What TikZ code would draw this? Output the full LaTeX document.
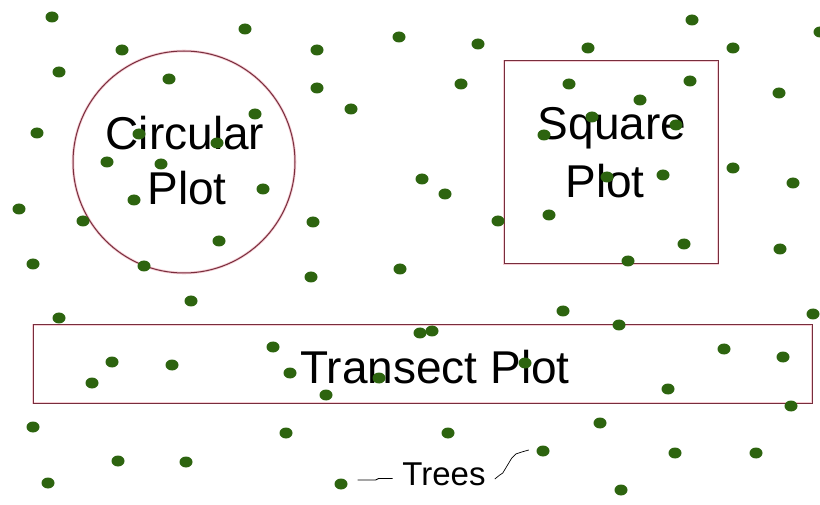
\documentclass[tikz,border=0pt]{standalone}
\usepackage{fontspec}
\setmainfont{Liberation Sans}
\usetikzlibrary{shapes.geometric}
\definecolor{plotline}{RGB}{120,45,60}
\definecolor{plothalo}{RGB}{245,205,212}
\definecolor{treegreen}{RGB}{45,100,15}
\tikzset{
  frame/.style={draw=plotline, line width=1pt, fill=none, inner sep=0pt,
    preaction={draw=plothalo, line width=2.6pt}},
  big/.style={font=\fontsize{46}{52}\selectfont, anchor=base, inner sep=0pt},
  small/.style={font=\fontsize{33}{38}\selectfont, anchor=base, inner sep=0pt},
  tree/.style={ellipse, fill=treegreen, draw=none, inner sep=0pt,
    minimum width=13pt, minimum height=11pt},
  leader/.style={draw=black, line width=0.9pt}
}
\begin{document}
\begin{tikzpicture}[x=1pt, y=-1pt]
  \useasboundingbox[fill=white] (0,0) rectangle (820,505);

  % sample plots
  \node[frame, circle, minimum size=222pt] (circ) at (184,162) {};
  \node[frame, rectangle, minimum width=214pt, minimum height=203pt] (sq) at (611,162.5) {};
  \node[frame, rectangle, minimum width=779pt, minimum height=78pt] (tr) at (422.5,364) {};

  % plot labels
  \node[big] (circA) at (185,150) {Circular};
  \node[big] (circB) at (187,205) {Plot};
  \node[big] (sqA) at (612,140) {Square};
  \node[big] (sqB) at (605,198) {Plot};
  \node[big] (trA) at (435,383) {Transect Plot};
  \node[small] (trees) at (444,485) {Trees};

  % scattered trees
  \foreach \x/\y [count=\i] in {
    52/17, 122/50, 245/29, 317/50, 399/37, 478/44, 588/48, 692/20, 733/48, 820/32,
    59/72, 169/79, 317/88, 461/84, 569/84, 690/81, 779/93, 351/109, 640/100,
    37/133, 255/114, 139/134, 217/143, 592/117, 676/125, 544/135,
    107/162, 161/164, 263/189, 134/200, 19/209, 83/221, 313/222,
    422/179, 445/194, 498/221, 549/215, 607/177, 663/175, 733/168, 793/183,
    219/241, 684/244, 780/249, 33/264, 144/266, 311/277, 400/269, 628/261,
    191/301, 59/318, 563/311, 813/314, 420/333, 432/331, 619/325,
    273/347, 112/362, 172/365, 92/383, 290/373, 379/378, 326/395,
    724/349, 783/357, 668/389, 525/363, 791/406,
    33/427, 286/433, 448/433, 600/423, 118/461, 186/462, 48/483,
    675/453, 756/453, 621/490}
    \node[tree] (t\i) at (\x,\y) {};

  % trees pointed at by the label
  \node[tree] (treeL) at (341,484) {};
  \node[tree] (treeR) at (543,451) {};

  % leaders
  \draw[leader] (treeL.east) ++(10,-4) coordinate (lA) -- ++(18,0) -- ++(3,-1.5) -- ++(14,0);
  \draw[leader, line width=0.7pt] (trees.base east) ++(9,-6) coordinate (rA)
     -- ++(5,-4) -- ++(3,-2) -- ++(3,-5) -- ++(3,-5) -- ++(3,-5) -- ++(4,-4) -- ++(6,-2) -- ++(7,-2);
\end{tikzpicture}
\end{document}
